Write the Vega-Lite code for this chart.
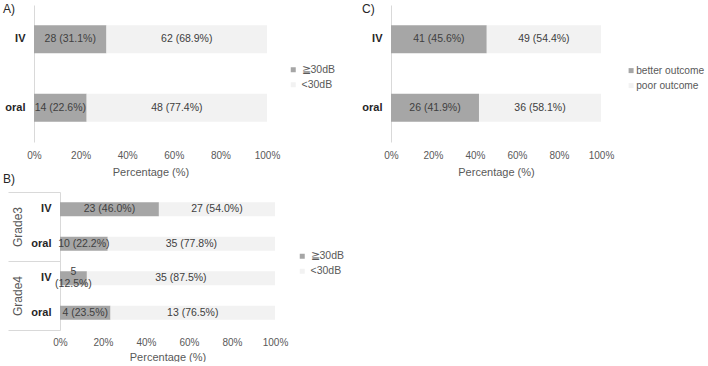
{
  "$schema": "https://vega.github.io/schema/vega-lite/v6.json",
  "padding": {"left": 3, "top": 3, "right": 0, "bottom": 0},
  "config": {"font": "Liberation Sans", "view": {"stroke": null}},
  "datasets": {
    "A": [
      {"route": "IV", "group": "≧30dB", "ord": 1, "pct": 31.1, "label": "28 (31.1%)"},
      {"route": "IV", "group": "<30dB", "ord": 2, "pct": 68.9, "label": "62 (68.9%)"},
      {"route": "oral", "group": "≧30dB", "ord": 1, "pct": 22.6, "label": "14 (22.6%)"},
      {"route": "oral", "group": "<30dB", "ord": 2, "pct": 77.4, "label": "48 (77.4%)"}
    ],
    "C": [
      {"route": "IV", "group": "better outcome", "ord": 1, "pct": 45.6, "label": "41 (45.6%)"},
      {"route": "IV", "group": "poor outcome", "ord": 2, "pct": 54.4, "label": "49 (54.4%)"},
      {"route": "oral", "group": "better outcome", "ord": 1, "pct": 41.9, "label": "26 (41.9%)"},
      {"route": "oral", "group": "poor outcome", "ord": 2, "pct": 58.1, "label": "36 (58.1%)"}
    ],
    "B": [
      {"grade": "Grade3", "key": "Grade3 IV", "group": "≧30dB", "ord": 1, "pct": 46.0, "label": "23 (46.0%)"},
      {"grade": "Grade3", "key": "Grade3 IV", "group": "<30dB", "ord": 2, "pct": 54.0, "label": "27 (54.0%)"},
      {"grade": "Grade3", "key": "Grade3 oral", "group": "≧30dB", "ord": 1, "pct": 22.2, "label": "10 (22.2%)"},
      {"grade": "Grade3", "key": "Grade3 oral", "group": "<30dB", "ord": 2, "pct": 77.8, "label": "35 (77.8%)"},
      {"grade": "Grade4", "key": "Grade4 IV", "group": "≧30dB", "ord": 1, "pct": 12.5, "label": "5\n(12.5%)"},
      {"grade": "Grade4", "key": "Grade4 IV", "group": "<30dB", "ord": 2, "pct": 87.5, "label": "35 (87.5%)"},
      {"grade": "Grade4", "key": "Grade4 oral", "group": "≧30dB", "ord": 1, "pct": 23.5, "label": "4 (23.5%)"},
      {"grade": "Grade4", "key": "Grade4 oral", "group": "<30dB", "ord": 2, "pct": 76.5, "label": "13 (76.5%)"}
    ]
  },
  "columns": 2,
  "bounds": "flush",
  "spacing": {"row": 50, "column": 116},
  "resolve": {"scale": {"color": "independent"}, "legend": {"color": "independent"}},
  "concat": [
    {
      "width": 233, "height": 137,
      "data": {"name": "A"},
      "title": {"text": "A)", "anchor": "start", "frame": "group", "orient": "top", "offset": 0, "baseline": "top", "dx": -31, "dy": 11, "fontSize": 12, "fontWeight": "normal", "color": "#262626"},
      "transform": [
        {"stack": "pct", "groupby": ["route"], "sort": [{"field": "ord", "order": "ascending"}], "as": ["x0", "x1"]},
        {"calculate": "(datum.x0 + datum.x1) / 2", "as": "xm"}
      ],
      "encoding": {
        "y": {"field": "route", "type": "nominal", "sort": ["IV", "oral"], "scale": {"paddingInner": 0, "paddingOuter": 0},
          "axis": {"title": null, "ticks": false, "tickSize": 0, "labelPadding": 9, "labelFontSize": 11, "labelFontWeight": "bold", "labelColor": "#262626", "domainColor": "#d9d9d9", "grid": false}}
      },
      "layer": [
        {
          "mark": {"type": "bar", "size": 28},
          "encoding": {
            "x": {"field": "x0", "type": "quantitative", "scale": {"domain": [0, 100], "nice": false},
              "axis": {"values": [0, 20, 40, 60, 80, 100], "labelExpr": "datum.value + '%'", "labelFlush": false, "title": "Percentage (%)", "domain": false, "ticks": false, "tickSize": 0, "grid": false, "labelPadding": 8, "labelFontSize": 10, "labelColor": "#595959", "titleFontSize": 11, "titleFontWeight": "normal", "titleColor": "#595959", "titlePadding": 6}},
            "x2": {"field": "x1"},
            "color": {"field": "group", "type": "nominal", "scale": {"domain": ["≧30dB", "<30dB"], "range": ["#a6a6a6", "#f2f2f2"]},
              "legend": {"orient": "none", "legendX": 254, "legendY": 59.5, "title": null, "symbolType": "square", "symbolSize": 25, "symbolStrokeWidth": 0, "labelFontSize": 10.5, "labelColor": "#595959", "rowPadding": 4, "labelOffset": 3, "padding": 0}}
          }
        },
        {
          "mark": {"type": "text", "fontSize": 10.5, "color": "#404040"},
          "encoding": {"x": {"field": "xm", "type": "quantitative"}, "text": {"field": "label"}}
        }
      ]
    },
    {
      "width": 210, "height": 137,
      "data": {"name": "C"},
      "title": {"text": "C)", "anchor": "start", "frame": "group", "orient": "top", "offset": 0, "baseline": "top", "dx": -29, "dy": 11, "fontSize": 12, "fontWeight": "normal", "color": "#262626"},
      "transform": [
        {"stack": "pct", "groupby": ["route"], "sort": [{"field": "ord", "order": "ascending"}], "as": ["x0", "x1"]},
        {"calculate": "(datum.x0 + datum.x1) / 2", "as": "xm"}
      ],
      "encoding": {
        "y": {"field": "route", "type": "nominal", "sort": ["IV", "oral"], "scale": {"paddingInner": 0, "paddingOuter": 0},
          "axis": {"title": null, "ticks": false, "tickSize": 0, "labelPadding": 9, "labelFontSize": 11, "labelFontWeight": "bold", "labelColor": "#262626", "domainColor": "#d9d9d9", "grid": false}}
      },
      "layer": [
        {
          "mark": {"type": "bar", "size": 28},
          "encoding": {
            "x": {"field": "x0", "type": "quantitative", "scale": {"domain": [0, 100], "nice": false},
              "axis": {"values": [0, 20, 40, 60, 80, 100], "labelExpr": "datum.value + '%'", "labelFlush": false, "title": "Percentage (%)", "domain": false, "ticks": false, "tickSize": 0, "grid": false, "labelPadding": 8, "labelFontSize": 10, "labelColor": "#595959", "titleFontSize": 11, "titleFontWeight": "normal", "titleColor": "#595959", "titlePadding": 6}},
            "x2": {"field": "x1"},
            "color": {"field": "group", "type": "nominal", "scale": {"domain": ["better outcome", "poor outcome"], "range": ["#a6a6a6", "#f2f2f2"]},
              "legend": {"orient": "none", "legendX": 235, "legendY": 60.5, "title": null, "symbolType": "square", "symbolSize": 25, "symbolStrokeWidth": 0, "labelFontSize": 10.2, "labelColor": "#595959", "rowPadding": 4, "labelOffset": 0, "padding": 0}}
          }
        },
        {
          "mark": {"type": "text", "fontSize": 10.5, "color": "#404040"},
          "encoding": {"x": {"field": "xm", "type": "quantitative"}, "text": {"field": "label"}}
        }
      ]
    },
    {
      "width": 241, "height": 138,
      "data": {"name": "B"},
      "title": {"text": "B)", "anchor": "start", "frame": "group", "orient": "top", "offset": 0, "baseline": "top", "dx": -31, "dy": -6, "fontSize": 12, "fontWeight": "normal", "color": "#262626"},
      "transform": [
        {"stack": "pct", "groupby": ["key"], "sort": [{"field": "ord", "order": "ascending"}], "as": ["x0", "x1"]},
        {"calculate": "(datum.x0 + datum.x1) / 2", "as": "xm"}
      ],
      "layer": [
        {
          "encoding": {
            "y": {"field": "key", "type": "nominal", "sort": ["Grade3 IV", "Grade3 oral", "Grade4 IV", "Grade4 oral"], "scale": {"paddingInner": 0, "paddingOuter": 0},
              "axis": {"title": null, "offset": -26, "ticks": false, "tickSize": 0, "labelPadding": 9, "labelFontSize": 11, "labelFontWeight": "bold", "labelColor": "#262626", "domainColor": "#d9d9d9", "grid": false, "labelExpr": "split(datum.label, ' ')[1]"}}
          },
          "layer": [
            {
              "mark": {"type": "bar", "size": 14},
              "encoding": {
                "x": {"field": "x0", "type": "quantitative", "scale": {"domain": [0, 100], "nice": false, "range": [26, 241]},
                  "axis": {"values": [0, 20, 40, 60, 80, 100], "labelExpr": "datum.value + '%'", "labelFlush": false, "title": "Percentage (%)", "domain": false, "ticks": false, "tickSize": 0, "grid": false, "labelPadding": 7, "labelFontSize": 10, "labelColor": "#595959", "titleFontSize": 11, "titleFontWeight": "normal", "titleColor": "#595959", "titlePadding": 4}},
                "x2": {"field": "x1"},
                "color": {"field": "group", "type": "nominal", "scale": {"domain": ["≧30dB", "<30dB"], "range": ["#a6a6a6", "#f2f2f2"]},
                  "legend": {"orient": "none", "legendX": 263, "legendY": 59, "title": null, "symbolType": "square", "symbolSize": 25, "symbolStrokeWidth": 0, "labelFontSize": 10.5, "labelColor": "#595959", "rowPadding": 4, "labelOffset": 3, "padding": 0}}
              }
            },
            {
              "transform": [{"filter": "indexof(datum.label, '\\n') < 0"}],
              "mark": {"type": "text", "fontSize": 10.5, "color": "#404040"},
              "encoding": {"x": {"field": "xm", "type": "quantitative"}, "text": {"field": "label"}}
            },
            {
              "transform": [{"filter": "indexof(datum.label, '\\n') >= 0"}],
              "mark": {"type": "text", "fontSize": 10.5, "color": "#404040", "lineBreak": "\n", "lineHeight": 12, "dy": -6},
              "encoding": {"x": {"field": "xm", "type": "quantitative"}, "text": {"field": "label"}}
            }
          ]
        },
        {
          "mark": {"type": "point", "opacity": 0},
          "encoding": {
            "y": {"field": "grade", "type": "nominal", "sort": ["Grade3", "Grade4"], "scale": {"paddingInner": 0, "paddingOuter": 0},
              "axis": {"orient": "left", "title": null, "offset": -26, "domain": false, "ticks": true, "tickBand": "extent", "tickSize": 52, "tickColor": "#d9d9d9", "tickWidth": 1, "grid": false, "labelAngle": -90, "labelAlign": "center", "labelBaseline": "alphabetic", "labelPadding": -13, "labelFontSize": 12, "labelColor": "#595959"}}
          }
        }
      ],
      "resolve": {"scale": {"y": "independent"}, "axis": {"y": "independent"}}
    }
  ]
}
